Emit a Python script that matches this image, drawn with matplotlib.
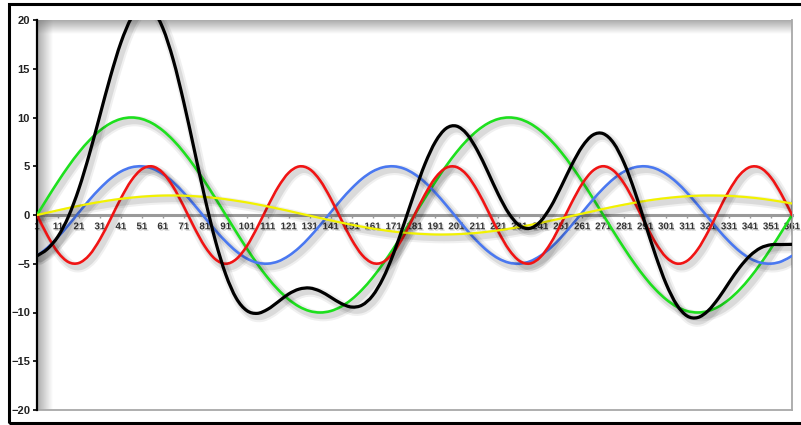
import numpy as np
import matplotlib
matplotlib.use('Agg')
import matplotlib.pyplot as plt
import matplotlib.patheffects as pe
from matplotlib.patches import Rectangle, PathPatch
from matplotlib.path import Path

# Categories (1..361 every 5) and values
x = list(range(1, 362, 5))
tick_pos = list(range(1, 362, 10))
tick_labels = [str(v) for v in tick_pos]

green = [0.0, 1.74, 3.42, 5.0, 6.43, 7.66, 8.66, 9.4, 9.85, 10.0, 9.85, 9.4, 8.66, 7.66, 6.43, 5.0, 3.42, 1.74, 0.0,
         -1.74, -3.42, -5.0, -6.43, -7.66, -8.66, -9.4, -9.85, -10.0, -9.85, -9.4, -8.66, -7.66, -6.43, -5.0, -3.42, -1.74, 0.0,
         1.74, 3.42, 5.0, 6.43, 7.66, 8.66, 9.4, 9.85, 10.0, 9.85, 9.4, 8.66, 7.66, 6.43, 5.0, 3.42, 1.74, 0.0,
         -1.74, -3.42, -5.0, -6.43, -7.66, -8.66, -9.4, -9.85, -10.0, -9.85, -9.4, -8.66, -7.66, -6.43, -5.0, -3.42, -1.74, 0.0]

blue = [-4.19, -3.35, -2.27, -1.04, 0.26, 1.55, 2.72, 3.72, 4.46, 4.89, 4.99, 4.76,
        4.19, 3.35, 2.27, 1.04, -0.26, -1.55, -2.72, -3.72, -4.46, -4.89, -4.99, -4.76,
        -4.19, -3.35, -2.27, -1.04, 0.26, 1.55, 2.72, 3.72, 4.46, 4.89, 4.99, 4.76,
        4.19, 3.35, 2.27, 1.04, -0.26, -1.55, -2.72, -3.72, -4.46, -4.89, -4.99, -4.76,
        -4.19, -3.35, -2.27, -1.04, 0.26, 1.55, 2.72, 3.72, 4.46, 4.89, 4.99, 4.76,
        4.19, 3.35, 2.27, 1.04, -0.26, -1.55, -2.72, -3.72, -4.46, -4.89, -4.99, -4.76,
        -4.19]

red = [0.0, -2.11, -3.83, -4.83, -4.92, -4.10, -2.5, -0.44, 1.71, 3.54, 4.70, 4.98, 4.33, 2.87, 0.87,
       -1.29, -3.21, -4.53, -5.0, -4.53, -3.21, -1.29, 0.87, 2.87, 4.33, 4.98, 4.70, 3.54, 1.71, -0.44,
       -2.5, -4.10, -4.92, -4.83, -3.83, -2.11, 0.0,
       2.11, 3.83, 4.83, 4.92, 4.10, 2.5, 0.44, -1.71, -3.54, -4.70, -4.98, -4.33, -2.87, -0.87,
       1.29, 3.21, 4.53, 5.0, 4.53, 3.21, 1.29, -0.87, -2.87, -4.33, -4.98, -4.70, -3.54, -1.71,
       0.44, 2.5, 4.10, 4.92, 4.83, 3.83, 2.11, 0.0]

yellow = [0.0, 0.24, 0.48, 0.72, 0.94, 1.15, 1.34, 1.51, 1.66, 1.78,
          1.88, 1.95, 1.99, 2.0, 1.98, 1.93, 1.85, 1.75, 1.62, 1.46,
          1.29, 1.09, 0.88, 0.65, 0.42, 0.17, -0.07, -0.31, -0.55, -0.78,
          -1.0, -1.2, -1.39, -1.55, -1.7, -1.81, -1.9, -1.96, -2.0, -2.0,
          -1.97, -1.91, -1.83, -1.71, -1.58, -1.41, -1.23, -1.03, -0.81, -0.58,
          -0.35, -0.1, 0.14, 0.38, 0.62, 0.85, 1.06, 1.26, 1.44, 1.6,
          1.73, 1.84, 1.92, 1.98, 2.0, 1.99, 1.96, 1.89, 1.8, 1.68,
          1.53, 1.36, 1.18]

black = [-4.19, -3.48, -2.20, -0.15, 2.71, 6.26, 10.22, 14.19, 17.68, 20.21,
         21.42, 21.09, 19.17, 15.88, 11.55, 6.68, 1.80, -2.59, -6.10, -8.53,
         -9.80, -10.09, -9.67, -8.90, -8.10, -7.60, -7.49, -7.81, -8.43, -9.07,
         -9.44, -9.24, -8.28, -6.49, -3.96, -0.90, 2.29, 5.24, 7.52, 8.87,
         9.12, 8.30, 6.61, 4.41, 2.10, 0.16, -1.07, -1.37, -0.67, 0.86,
         2.94, 5.15, 7.03, 8.20, 8.34, 7.36, 5.31, 2.44, -0.87, -4.17,
         -7.07, -9.19, -10.36, -10.52, -9.82, -8.52, -6.92, -5.39, -4.17, -3.38,
         -3.05, -3.03, -3.01]

plt.rcParams['font.family'] = ['Liberation Sans', 'DejaVu Sans']


def smooth_path(xs, ys):
    # Excel-like smoothed line: bezier segments through every data point
    p = np.column_stack([xs, ys]).astype(float)
    verts = [p[0]]
    codes = [Path.MOVETO]
    n = len(p)
    for i in range(n - 1):
        p0 = p[i - 1] if i > 0 else p[i]
        p3 = p[i + 2] if i + 2 < n else p[i + 1]
        c1 = p[i] + (p[i + 1] - p0) / 6
        c2 = p[i + 1] - (p3 - p[i]) / 6
        verts += [c1, c2, p[i + 1]]
        codes += [Path.CURVE4] * 3
    return Path(verts, codes)


fig = plt.figure(figsize=(8.01, 4.25), dpi=100)
ax = fig.add_axes([37/801, 1 - 410/425, (792 - 37)/801, (410 - 20)/425])

# inner shadow of the plot area (top and left edges)
grad = np.linspace(0.6, 0.0, 64)
top_img = np.zeros((64, 1, 4))
top_img[:, 0, :3] = 0.45
top_img[:, 0, 3] = grad
ax.imshow(top_img, extent=(0, 1, 1 - 0.035, 1), transform=ax.transAxes,
          aspect='auto', zorder=0.5, interpolation='bilinear')
left_img = np.zeros((1, 64, 4))
left_img[0, :, :3] = 0.45
left_img[0, :, 3] = grad
ax.imshow(left_img, extent=(0, 0.02, 0, 1), transform=ax.transAxes,
          aspect='auto', zorder=0.5, interpolation='bilinear')

shadow = [pe.SimpleLineShadow(offset=(2.2, -2.6), shadow_color='k', alpha=0.06, linewidth=7.5),
          pe.SimpleLineShadow(offset=(2.2, -2.6), shadow_color='k', alpha=0.09, linewidth=4.5),
          pe.Normal()]

series = [(green, '#1ee01e', 1.9), (blue, '#4a78f0', 1.9), (red, '#f01414', 1.9),
          (yellow, '#f2f200', 1.6), (black, '#000000', 2.3)]
for vals, col, lw in series:
    patch = PathPatch(smooth_path(x, vals), fill=False, edgecolor=col, lw=lw,
                      capstyle='round', joinstyle='round', zorder=3, path_effects=shadow)
    ax.add_patch(patch)

ax.set_xlim(1, 361)
ax.set_ylim(-20, 20)
ax.set_yticks([-20, -15, -10, -5, 0, 5, 10, 15, 20])
ax.set_xticks(tick_pos)
ax.set_xticklabels(tick_labels)

# axes styling
ax.spines['top'].set_visible(False)
ax.spines['right'].set_color('#a8a8a8')
ax.spines['right'].set_linewidth(1.3)
ax.spines['left'].set_color('black')
ax.spines['left'].set_linewidth(1.6)
ax.spines['bottom'].set_position(('data', 0))
ax.spines['bottom'].set_color('#9a9a9a')
ax.spines['bottom'].set_linewidth(2.2)
ax.spines['bottom'].set_zorder(2)
ax.plot([0, 1], [0, 0], transform=ax.transAxes, color='#a8a8a8', lw=1.3, clip_on=False)

ax.tick_params(axis='y', direction='out', length=3, width=1.2, color='black',
               labelsize=8, labelcolor='#222222', pad=2)
ax.tick_params(axis='x', direction='out', length=2.5, width=1, color='#9a9a9a',
               labelsize=7, labelcolor='#333333', pad=2)
for lab in ax.get_yticklabels():
    lab.set_fontweight('bold')
for lab in ax.get_xticklabels():
    lab.set_fontweight('bold')
    lab.set_path_effects([pe.withSimplePatchShadow(offset=(1, -1), shadow_rgbFace='#888888', alpha=0.4)])

# outer frame
fig.add_artist(Rectangle((8.5/801, 2.5/425), 1.0, (422.5 - 3.5)/425, transform=fig.transFigure,
                         fill=False, edgecolor='black', lw=2.2))

fig.savefig('out.png', dpi=100)
